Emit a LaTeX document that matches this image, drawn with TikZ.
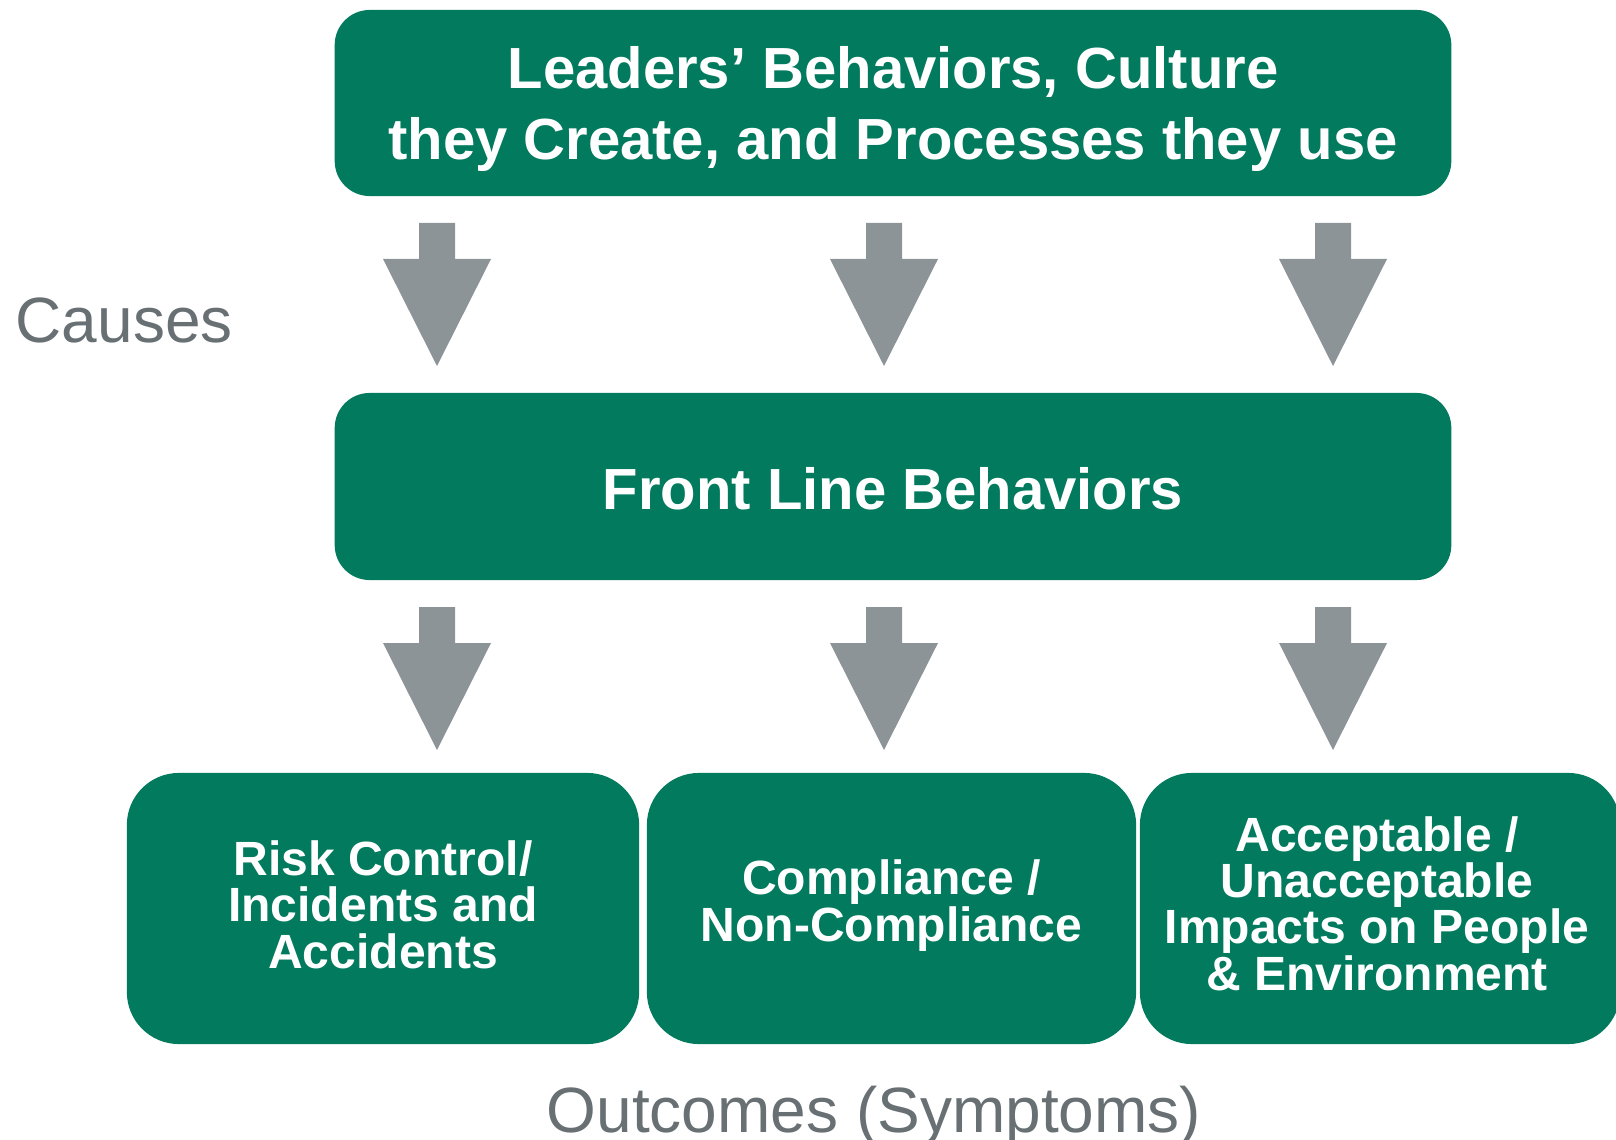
\documentclass[tikz,border=0pt]{standalone}
\usepackage{fontspec}
\setmainfont{Liberation Sans}

\definecolor{verdeCaja}{RGB}{2,122,94}
\definecolor{grisFlecha}{RGB}{140,148,152}
\definecolor{grisTexto}{RGB}{104,112,116}

\tikzset{
    caja/.style={fill=verdeCaja, rounded corners=0.35cm, inner sep=0pt, outer sep=0pt},
    cajaBaja/.style={caja, rounded corners=0.52cm, minimum height=2.71cm},
    textoCaja/.style={text=white, inner sep=0pt, align=center,
        font=\bfseries\fontsize{16.5}{20.2}\selectfont},
    textoBajo/.style={textoCaja, font=\bfseries\fontsize{13.66}{13.2}\selectfont},
    etiqueta/.style={text=grisTexto, inner sep=0pt, font=\fontsize{18.2}{22}\selectfont}
}

% Flecha gruesa hacia abajo: x del centro, y de arriba
\newcommand{\flechaGris}[2]{%
    \fill[grisFlecha] (#1-18,#2) -- (#1+18,#2) -- (#1+18,#2+36) -- (#1+54,#2+36)
        -- (#1,#2+143) -- (#1-54,#2+36) -- (#1-18,#2+36) -- cycle;}

\begin{document}
\begin{tikzpicture}[x=0.01cm, y=-0.01cm]
    \clip (0,0) rectangle (1616,1140);

    % Cajas
    \node[caja, minimum width=11.16cm, minimum height=1.86cm] (lideres) at (893,103) {};
    \node[caja, minimum width=11.16cm, minimum height=1.87cm] (primeraLinea) at (893,486.5) {};
    \node[cajaBaja, minimum width=5.12cm] (riesgo) at (383,908.5) {};
    \node[cajaBaja, minimum width=4.89cm] (cumplimiento) at (891.5,908.5) {};
    \node[cajaBaja, minimum width=4.80cm] (impactos) at (1380,908.5) {};

    % Textos de las cajas
    \node[textoCaja] (tLideres) at ([yshift=-0.06cm]lideres.center)
        {Leaders’ Behaviors, Culture\\they Create, and Processes they use};
    \node[textoCaja] (tPrimeraLinea) at ([yshift=-0.02cm]primeraLinea.center) {Front Line Behaviors};
    \node[textoBajo] (tRiesgo) at ([yshift=0.04cm]riesgo.center)
        {Risk Control/\\Incidents and\\Accidents};
    \node[textoBajo] (tCumplimiento) at ([yshift=0.03cm]cumplimiento.center)
        {Compliance /\\Non-Compliance};
    \node[textoBajo] (tImpactos) at ([xshift=-0.03cm, yshift=0.05cm]impactos.center)
        {Acceptable /\\Unacceptable\\Impacts on People\\\& Environment};

    % Flechas
    \foreach \x in {437,884,1333} {
        \flechaGris{\x}{223}
        \flechaGris{\x}{607}
    }

    % Etiquetas
    \node[etiqueta, anchor=base west] (causas) at (15,343) {Causes};
    \node[etiqueta, anchor=base west] (resultados) at (546,1132) {Outcomes (Symptoms)};
\end{tikzpicture}
\end{document}
